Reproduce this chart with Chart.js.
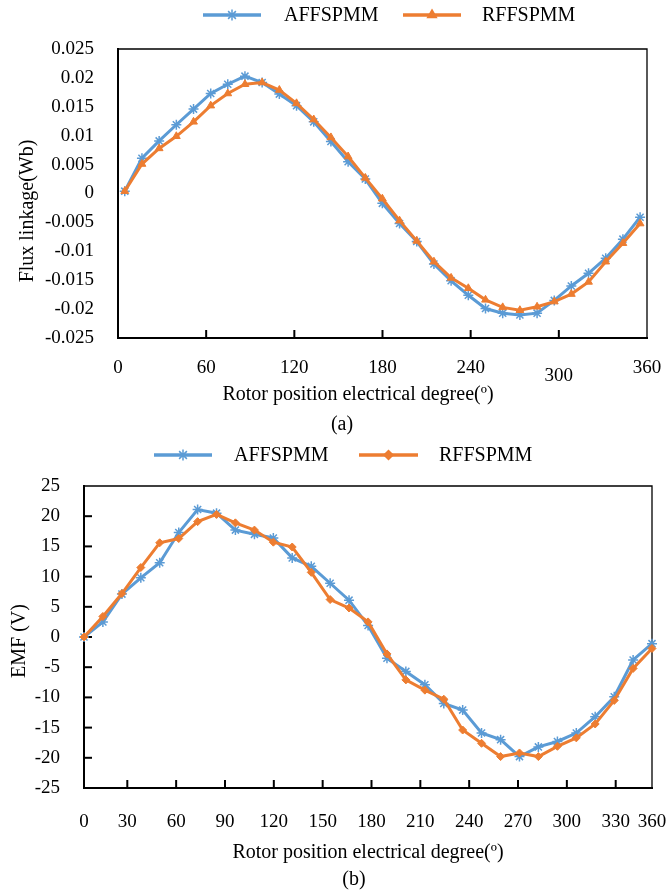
<!DOCTYPE html>
<html><head><meta charset="utf-8">
<script src="https://cdn.jsdelivr.net/npm/chart.js@4/dist/chart.umd.min.js"></script>
<style>
html,body{margin:0;padding:0;background:#fff;}
canvas{display:block;}
</style></head>
<body>
<canvas id="c1" width="671" height="440"></canvas>
<canvas id="c2" width="671" height="454"></canvas>
<script>
// ---------- data (a) flux linkage ----------
const fluxAngle = [4.6, 16.3, 28.0, 39.7, 51.4, 63.1, 74.7, 86.4, 98.1, 109.8, 121.5, 133.2, 144.9, 156.6, 168.3, 179.9, 191.6, 203.3, 215.0, 226.7, 238.4, 250.1, 261.8, 273.5, 285.2, 296.9, 308.5, 320.2, 331.9, 343.6, 355.3];
const fluxAFF = [0.0004, 0.0061, 0.0091, 0.0119, 0.0146, 0.0173, 0.0189, 0.0203, 0.0192, 0.0172, 0.0152, 0.0124, 0.0090, 0.0055, 0.0025, -0.0017, -0.0052, -0.0083, -0.0122, -0.0151, -0.0176, -0.0199, -0.0207, -0.0210, -0.0207, -0.0185, -0.0160, -0.0138, -0.0112, -0.0079, -0.0041];
const fluxRFF = [0.0004, 0.0051, 0.0078, 0.0099, 0.0124, 0.0152, 0.0173, 0.0189, 0.0192, 0.0179, 0.0156, 0.0128, 0.0097, 0.0064, 0.0027, -0.0009, -0.0047, -0.0082, -0.0118, -0.0146, -0.0164, -0.0184, -0.0197, -0.0202, -0.0196, -0.0187, -0.0174, -0.0153, -0.0118, -0.0086, -0.0052];
const fluxXTicks = [0, 60, 120, 180, 240, 300, 360];
const fluxXLabels = ['0', '60', '120', '180', '240', '300', '360'];
const fluxYTicks = [-0.025, -0.02, -0.015, -0.01, -0.005, 0, 0.005, 0.01, 0.015, 0.02, 0.025];
const fluxYLabels = ['-0.025', '-0.02', '-0.015', '-0.01', '-0.005', '0', '0.005', '0.01', '0.015', '0.02', '0.025'];

// ---------- data (b) EMF ----------
const emfAngle = [3.4, 15.0, 26.7, 38.3, 49.9, 61.6, 73.2, 84.8, 96.4, 108.1, 119.7, 131.3, 143.0, 154.6, 166.2, 177.9, 189.5, 201.1, 212.8, 224.4, 236.0, 247.6, 259.3, 270.9, 282.5, 294.2, 305.8, 317.4, 329.1, 340.7, 352.3];
const emfAFF = [0, 2.5, 7.1, 9.8, 12.3, 17.3, 21.1, 20.5, 17.7, 17.0, 16.4, 13.1, 11.7, 8.9, 6.1, 1.9, -3.5, -5.7, -7.9, -11.0, -12.1, -15.9, -17.0, -19.8, -18.2, -17.3, -15.9, -13.2, -9.9, -3.8, -1.1];
const emfRFF = [0, 3.4, 7.2, 11.5, 15.6, 16.3, 19.1, 20.3, 18.9, 17.7, 15.7, 14.9, 10.7, 6.2, 4.8, 2.5, -2.8, -7.1, -8.8, -10.3, -15.4, -17.6, -19.8, -19.2, -19.8, -18.1, -16.7, -14.4, -10.5, -5.2, -1.9];
const emfXTicks = [3.4, 30, 60, 90, 120, 150, 180, 210, 240, 270, 300, 330, 352.3];
const emfXLabels = ['0', '30', '60', '90', '120', '150', '180', '210', '240', '270', '300', '330', '360'];
const emfYTicks = [-25, -20, -15, -10, -5, 0, 5, 10, 15, 20, 25];
const emfYLabels = ['-25', '-20', '-15', '-10', '-5', '0', '5', '10', '15', '20', '25'];

const seriesNames = ['AFFSPMM', 'RFFSPMM'];

// ---------- styling ----------
const BLUE = '#5B9BD5';
const ORANGE = '#ED7D31';
const SERIF = '"Liberation Serif", "Times New Roman", Times, serif';

function decorPlugin(o) {
  return {
    id: 'decor',
    beforeDatasetsDraw(chart) {
      const ctx = chart.ctx, a = chart.chartArea;
      const xs = chart.scales.x, ys = chart.scales.y;
      ctx.save();
      ctx.strokeStyle = '#000';
      ctx.lineCap = 'square';
      ctx.lineWidth = 1.3;
      ctx.beginPath(); ctx.moveTo(a.left, a.top); ctx.lineTo(a.right, a.top); ctx.lineTo(a.right, a.bottom); ctx.stroke();
      ctx.lineWidth = 2;
      ctx.beginPath(); ctx.moveTo(a.left, a.top); ctx.lineTo(a.left, a.bottom); ctx.lineTo(a.right, a.bottom); ctx.stroke();
      // inner tick marks
      ctx.lineWidth = 2;
      ctx.lineCap = 'butt';
      xs.ticks.forEach(t => {
        if (t.value <= xs.min || t.value >= xs.max) return;
        const px = xs.getPixelForValue(t.value);
        ctx.beginPath(); ctx.moveTo(px, a.bottom); ctx.lineTo(px, a.bottom - 8); ctx.stroke();
      });
      if (o.yTicks) {
        ys.ticks.forEach(t => {
          if (t.value <= ys.min || t.value >= ys.max) return;
          const py = ys.getPixelForValue(t.value);
          ctx.beginPath(); ctx.moveTo(a.left, py); ctx.lineTo(a.left + 8, py); ctx.stroke();
        });
      }
      ctx.restore();
    },
    afterDraw(chart) {
      const ctx = chart.ctx;
      ctx.save();
      ctx.fillStyle = '#000';
      ctx.font = '20px ' + SERIF;
      ctx.textBaseline = 'middle';
      // legend
      o.legend.forEach((it, k) => {
        const ds = chart.data.datasets[k];
        ctx.strokeStyle = ds.borderColor;
        ctx.lineWidth = 3.5;
        ctx.beginPath(); ctx.moveTo(it.x0, o.legendY); ctx.lineTo(it.x1, o.legendY); ctx.stroke();
        ctx.fillStyle = ds.borderColor;
        ctx.strokeStyle = ds.borderColor;
        ctx.lineWidth = 1.5;
        Chart.helpers.drawPoint(ctx, {pointStyle: ds.pointStyle, rotation: 0, radius: ds.pointRadius + 0.5, borderWidth: 1.5}, (it.x0 + it.x1) / 2, o.legendY);
        ctx.fillStyle = '#000';
        ctx.textAlign = 'left';
        ctx.fillText(ds.label, it.tx, o.legendY + 1);
      });
      // axis titles and caption
      ctx.textAlign = 'center';
      ctx.fillText(o.xTitle, o.xTitlePos[0], o.xTitlePos[1]);
      ctx.fillText(o.caption, o.captionPos[0], o.captionPos[1]);
      ctx.save();
      ctx.translate(o.yTitlePos[0], o.yTitlePos[1]);
      ctx.rotate(-Math.PI / 2);
      ctx.fillText(o.yTitle, 0, 0);
      ctx.restore();
      ctx.restore();
    }
  };
}

function makeChart(id, cfg) {
  return new Chart(document.getElementById(id), {
    type: 'line',
    data: {
      datasets: [
        {label: seriesNames[0], data: cfg.x.map((v, i) => ({x: v, y: cfg.a[i]})), borderColor: BLUE, backgroundColor: BLUE,
         borderWidth: 3, pointStyle: 'star', pointRadius: 5, pointBorderWidth: 1.5, pointBorderColor: BLUE, pointBackgroundColor: BLUE,
         tension: 0, order: 1, clip: false},
        {label: seriesNames[1], data: cfg.x.map((v, i) => ({x: v, y: cfg.r[i]})), borderColor: ORANGE, backgroundColor: ORANGE,
         borderWidth: 3, pointStyle: cfg.rStyle, pointRadius: cfg.rRadius, pointBorderWidth: 1, pointBorderColor: ORANGE, pointBackgroundColor: ORANGE,
         tension: 0, order: 0, clip: false}
      ]
    },
    options: {
      responsive: false,
      animation: false,
      events: [],
      layout: {padding: cfg.padding},
      plugins: {legend: {display: false}, tooltip: {enabled: false}, title: {display: false}},
      scales: {
        x: {
          type: 'linear', min: cfg.xMin, max: cfg.xMax,
          grid: {display: false}, border: {display: false},
          afterBuildTicks: s => { s.ticks = cfg.xTicks.map(v => ({value: v})); },
          afterFit: s => { s.height = cfg.xH; s.paddingLeft = 0; s.paddingRight = 0; },
          ticks: {
            autoSkip: false, maxRotation: 0, minRotation: 0, padding: cfg.xPad, color: '#000',
            font: c => ({family: SERIF, size: 19, lineHeight: (cfg.lowTick !== undefined && c.tick && c.tick.value === cfg.lowTick) ? 1.95 : 1.2}),
            callback: (v, i) => cfg.xLabels[i]
          }
        },
        y: {
          type: 'linear', min: cfg.yMin, max: cfg.yMax,
          grid: {display: false}, border: {display: false},
          afterBuildTicks: s => { s.ticks = cfg.yTicks.map(v => ({value: v})); },
          afterFit: s => { s.width = cfg.yW; s.paddingTop = 0; s.paddingBottom = 0; },
          ticks: {
            autoSkip: false, padding: 16, color: '#000',
            font: {family: SERIF, size: 19},
            callback: (v, i) => cfg.yLabels[i]
          }
        }
      }
    },
    plugins: [decorPlugin(cfg.decor)]
  });
}

makeChart('c1', {
  x: fluxAngle, a: fluxAFF, r: fluxRFF, rStyle: 'triangle', rRadius: 4.5,
  xMin: 0, xMax: 360, yMin: -0.025, yMax: 0.025,
  xTicks: fluxXTicks, xLabels: fluxXLabels, yTicks: fluxYTicks, yLabels: fluxYLabels,
  padding: {left: 0, right: 24, top: 49, bottom: 0}, xH: 102, yW: 118, xPad: 11, lowTick: 300,
  decor: {
    yTicks: false, legendY: 15,
    legend: [{x0: 203, x1: 261, tx: 284}, {x0: 403, x1: 461, tx: 482}],
    xTitle: 'Rotor position electrical degree(º)', xTitlePos: [358, 395],
    caption: '(a)', captionPos: [342, 425],
    yTitle: 'Flux linkage(Wb)', yTitlePos: [28, 211]
  }
});

makeChart('c2', {
  x: emfAngle, a: emfAFF, r: emfRFF, rStyle: 'rectRot', rRadius: 4,
  xMin: 3.4, xMax: 352.3, yMin: -25, yMax: 25,
  xTicks: emfXTicks, xLabels: emfXLabels, yTicks: emfYTicks, yLabels: emfYLabels,
  padding: {left: 0, right: 19, top: 46, bottom: 0}, xH: 106, yW: 84, xPad: 15,
  decor: {
    yTicks: true, legendY: 15,
    legend: [{x0: 154, x1: 212, tx: 234}, {x0: 359, x1: 418, tx: 439}],
    xTitle: 'Rotor position electrical degree(º)', xTitlePos: [368, 413],
    caption: '(b)', captionPos: [354, 440],
    yTitle: 'EMF (V)', yTitlePos: [20, 201]
  }
});
</script>
</body></html>
